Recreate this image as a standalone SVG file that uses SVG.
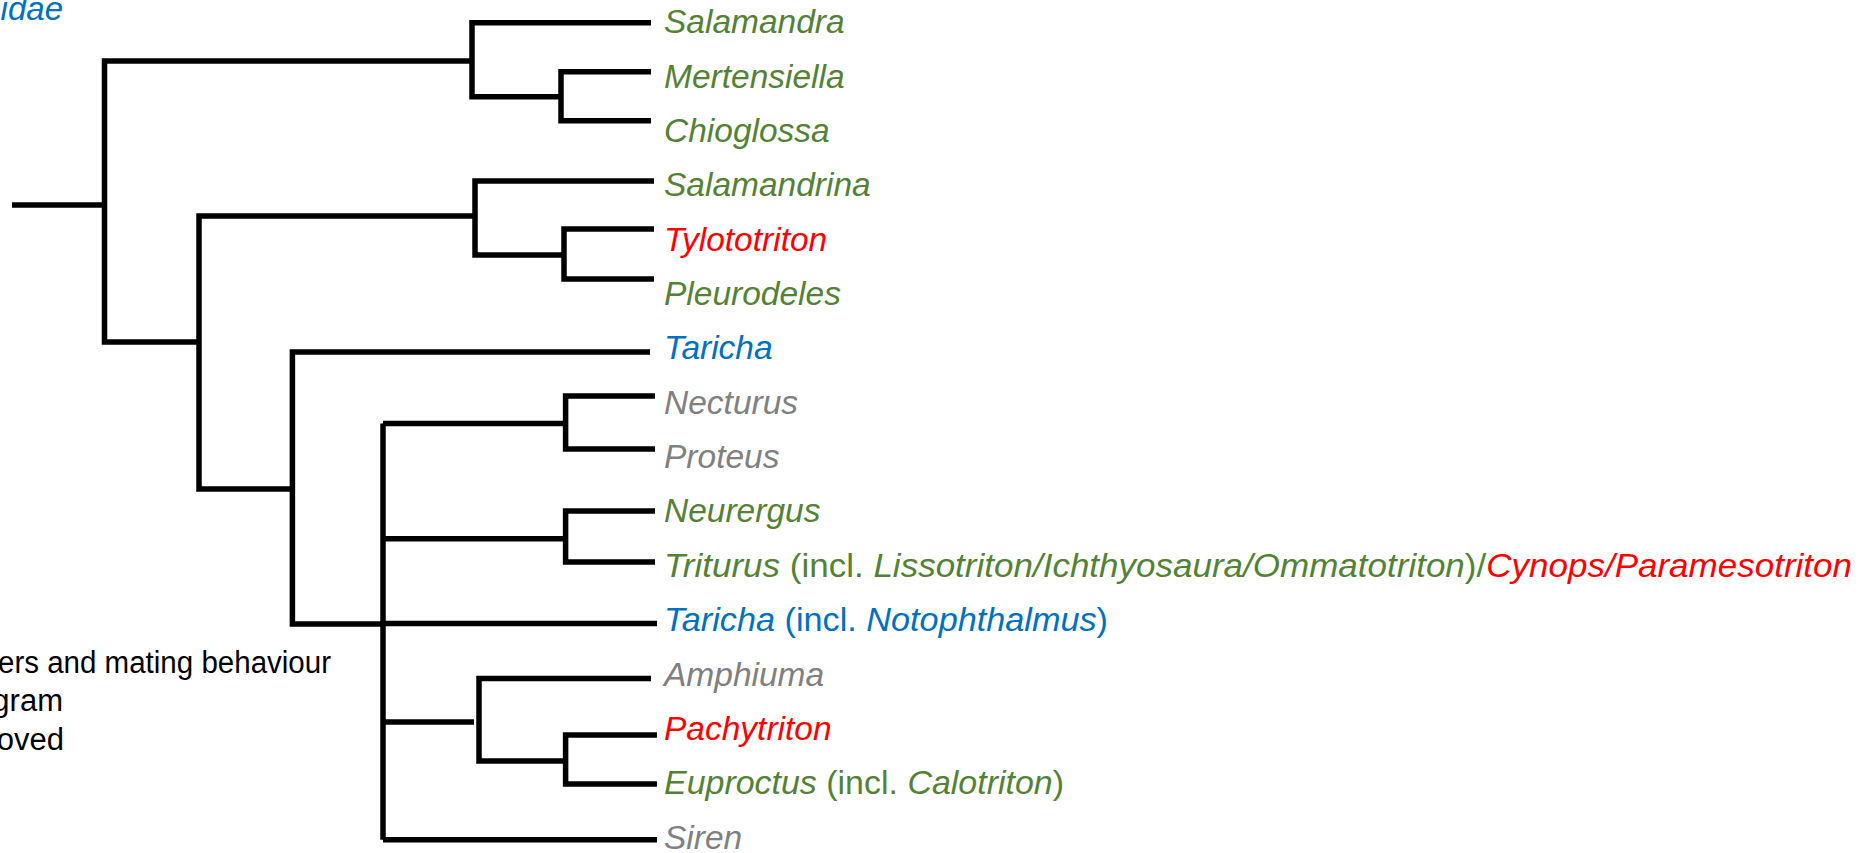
<svg xmlns="http://www.w3.org/2000/svg" width="1870" height="853" viewBox="0 0 1870 853">
<style>
.lbl{font-family:"Liberation Sans",Arial,sans-serif;font-size:33.5px;font-style:italic}
.n{font-style:normal}
.g{fill:#548235}.b{fill:#0070C0}.r{fill:#FF0000}.k{fill:#808080}
.leg{font-family:"Liberation Sans",Arial,sans-serif;font-size:31px;fill:#000}
.br{fill:none;stroke:#000;stroke-width:5.5;stroke-linejoin:miter;stroke-linecap:butt}
</style>
<rect width="1870" height="853" fill="#fff"/>
<g id="title"><text class="lbl b" x="63" y="20" text-anchor="end" style="font-size:33px">idae</text></g>
<g id="legend">
<text class="leg" x="-2" y="673" textLength="333" lengthAdjust="spacingAndGlyphs">ers and mating behaviour</text>
<text class="leg" x="63" y="711" text-anchor="end">gram</text>
<text class="leg" x="64" y="750" text-anchor="end">oved</text>
</g>
<g id="connectors" class="br">
<path d="M12 205 H104.5"/>
<path d="M472 61 H104.5 V342 H199"/>
<path d="M651 22.7 H472 V96.7 H561"/>
<path d="M651 71.7 H561 V120.7 H651"/>
<path d="M473 216 H199 V489 H292.4"/>
<path d="M654 181 H475 V255 H564"/>
<path d="M654 229 H564 V279 H654"/>
<path d="M650 352 H292.4 V624 H383"/>
<path d="M383 423.5 V839.7"/>
<path d="M563 423.5 H383"/>
<path d="M655 396 H565.6 V449 H655"/>
<path d="M565 538.8 H383"/>
<path d="M655 511 H565.6 V562 H655"/>
<path d="M657 623.5 H383"/>
<path d="M474 722 H383"/>
<path d="M651 678.5 H479 V761 H565.6"/>
<path d="M657 735 H565.6 V784 H657"/>
<path d="M657 839.7 H383"/>
</g>
<g id="salamandra"><text class="lbl g" x="664" y="33">Salamandra</text></g>
<g id="mertensiella"><text class="lbl g" x="664" y="87.5">Mertensiella</text></g>
<g id="chioglossa"><text class="lbl g" x="664" y="141.8">Chioglossa</text></g>
<g id="salamandrina"><text class="lbl g" x="664" y="196.2">Salamandrina</text></g>
<g id="tylototriton"><text class="lbl r" x="664" y="250.5">Tylototriton</text></g>
<g id="pleurodeles"><text class="lbl g" x="664" y="305">Pleurodeles</text></g>
<g id="taricha"><text class="lbl b" x="664" y="359.2">Taricha</text></g>
<g id="necturus"><text class="lbl k" x="664" y="413.6">Necturus</text></g>
<g id="proteus"><text class="lbl k" x="664" y="468">Proteus</text></g>
<g id="neurergus"><text class="lbl g" x="664" y="522.4">Neurergus</text></g>
<g id="triturus"><text class="lbl g" x="664" y="576.8" textLength="1188" lengthAdjust="spacingAndGlyphs">Triturus<tspan class="n"> (incl. </tspan>Lissotriton/Ichthyosaura/Ommatotriton<tspan class="n">)/</tspan><tspan class="r">Cynops/Paramesotriton</tspan></text></g>
<g id="taricha2"><text class="lbl b" x="664" y="631.2" textLength="444" lengthAdjust="spacingAndGlyphs">Taricha<tspan class="n"> (incl. </tspan>Notophthalmus<tspan class="n">)</tspan></text></g>
<g id="amphiuma"><text class="lbl k" x="664" y="685.6">Amphiuma</text></g>
<g id="pachytriton"><text class="lbl r" x="664" y="740">Pachytriton</text></g>
<g id="euproctus"><text class="lbl g" x="664" y="794.4" textLength="400" lengthAdjust="spacingAndGlyphs">Euproctus<tspan class="n"> (incl. </tspan>Calotriton<tspan class="n">)</tspan></text></g>
<g id="siren"><text class="lbl k" x="664" y="848.5">Siren</text></g>
</svg>
